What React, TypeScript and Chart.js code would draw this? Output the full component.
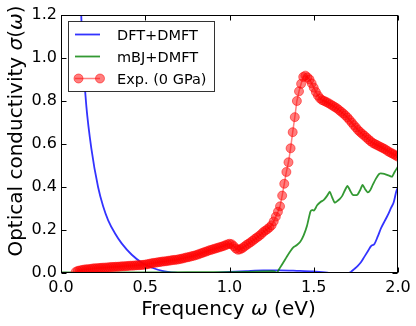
import { useEffect, useRef } from "react";
import { Chart, registerables } from "chart.js";

Chart.register(...registerables);

const FONT = "'DejaVu Sans', sans-serif";

const X_TICKS = [0, 0.5, 1.0, 1.5, 2.0];
const Y_TICKS = [0, 0.2, 0.4, 0.6, 0.8, 1.0, 1.2];

const LABELS = ["DFT+DMFT", "mBJ+DMFT", "Exp. (0 GPa)"];

// Axis titles: [text, italic]
const X_TITLE: [string, boolean][] = [["Frequency ", false], ["ω", true], [" (eV)", false]];
const Y_TITLE: [string, boolean][] = [["Optical conductivity ", false], ["σ", true], ["(", false], ["ω", true], [")", false]];

// DFT+DMFT (blue)
const DFT_X = [0.1, 0.12, 0.13, 0.15, 0.18, 0.22, 0.25, 0.28, 0.32, 0.36, 0.42, 0.48, 0.55, 0.6, 0.7, 0.77, 0.85, 1.0, 1.1, 1.2, 1.3, 1.4, 1.5, 1.58, 1.62, 1.66, 1.7, 1.72, 1.74, 1.76, 1.78, 1.8, 1.82, 1.84, 1.86, 1.88, 1.9, 1.92, 1.94, 1.96, 1.975, 1.99, 2.0];
const DFT_Y = [1.6, 1.2, 1.0, 0.78, 0.58, 0.4, 0.31, 0.245, 0.185, 0.138, 0.085, 0.048, 0.022, 0.01, 0.0, -0.004, -0.002, 0.005, 0.009, 0.012, 0.012, 0.01, 0.007, 0.002, -0.004, -0.006, -0.004, 0.005, 0.018, 0.032, 0.05, 0.075, 0.1, 0.125, 0.135, 0.17, 0.21, 0.24, 0.27, 0.305, 0.33, 0.38, 0.4];

// mBJ+DMFT (green)
const MBJ_X = [0, 0.3, 0.6, 0.9, 1.1, 1.2, 1.265, 1.28, 1.3, 1.32, 1.34, 1.36, 1.38, 1.4, 1.42, 1.44, 1.46, 1.48, 1.49, 1.5, 1.51, 1.52, 1.54, 1.56, 1.58, 1.595, 1.61, 1.625, 1.64, 1.655, 1.67, 1.685, 1.7, 1.715, 1.73, 1.745, 1.76, 1.775, 1.79, 1.805, 1.82, 1.835, 1.85, 1.87, 1.89, 1.91, 1.93, 1.95, 1.965, 1.98, 2.0];
const MBJ_Y = [0.003, 0.003, 0.003, 0.004, 0.005, 0.007, 0.008, 0.0, 0.025, 0.05, 0.076, 0.1, 0.12, 0.13, 0.145, 0.175, 0.22, 0.285, 0.293, 0.29, 0.3, 0.315, 0.33, 0.34, 0.36, 0.378, 0.35, 0.327, 0.335, 0.345, 0.36, 0.385, 0.405, 0.385, 0.365, 0.362, 0.365, 0.385, 0.41, 0.39, 0.375, 0.385, 0.41, 0.44, 0.462, 0.462, 0.458, 0.452, 0.448, 0.47, 0.495];

// Experiment (red), sampled on a uniform frequency grid
const EXP_START = 0.0875;
const EXP_STEP = 0.0125;
const EXP_Y = [
  0.005, 0.010, 0.012, 0.014, 0.016, 0.017, 0.018, 0.019,
  0.021, 0.022, 0.022, 0.023, 0.024, 0.025, 0.025, 0.026,
  0.027, 0.028, 0.028, 0.029, 0.029, 0.030, 0.031, 0.031,
  0.032, 0.033, 0.034, 0.034, 0.035, 0.036, 0.036, 0.037,
  0.038, 0.039, 0.041, 0.043, 0.045, 0.047, 0.048, 0.050,
  0.051, 0.053, 0.054, 0.055, 0.057, 0.058, 0.060, 0.061,
  0.062, 0.064, 0.066, 0.068, 0.071, 0.073, 0.075, 0.078,
  0.080, 0.083, 0.086, 0.090, 0.093, 0.097, 0.100, 0.104,
  0.107, 0.110, 0.113, 0.116, 0.119, 0.122, 0.125, 0.129,
  0.133, 0.136, 0.134, 0.125, 0.114, 0.108, 0.110, 0.115,
  0.122, 0.130, 0.136, 0.143, 0.150, 0.158, 0.165, 0.172,
  0.180, 0.190, 0.197, 0.204, 0.212, 0.222, 0.240, 0.262,
  0.285, 0.310, 0.360, 0.415, 0.470, 0.515, 0.580, 0.655,
  0.725, 0.800, 0.845, 0.880, 0.912, 0.918, 0.910, 0.900,
  0.882, 0.862, 0.842, 0.825, 0.812, 0.804, 0.800, 0.795,
  0.790, 0.784, 0.778, 0.772, 0.766, 0.758, 0.750, 0.742,
  0.733, 0.723, 0.712, 0.700, 0.688, 0.677, 0.665, 0.656,
  0.647, 0.639, 0.630, 0.621, 0.613, 0.605, 0.600, 0.595,
  0.590, 0.585, 0.580, 0.575, 0.568, 0.562, 0.557, 0.552,
  0.546, 0.541,
];

const BLUE = "rgba(0,0,255,0.8)";
const GREEN = "rgba(0,128,0,0.8)";
const RED = "rgba(255,0,0,0.5)";

const pts = (xs: number[], ys: number[]) => xs.map((x, i) => ({ x, y: ys[i] }));
const expPts = () => EXP_Y.map((y, i) => ({ x: +(EXP_START + i * EXP_STEP).toFixed(4), y }));

function drawRich(ctx: CanvasRenderingContext2D, parts: [string, boolean][], size: number) {
  const fontOf = (it: boolean) => `${it ? "italic " : ""}${size}px ${FONT}`;
  let total = 0;
  const widths = parts.map(([t, it]) => {
    ctx.font = fontOf(it);
    const w = ctx.measureText(t).width;
    total += w;
    return w;
  });
  let x = -total / 2;
  ctx.textAlign = "left";
  ctx.textBaseline = "alphabetic";
  parts.forEach(([t, it], i) => {
    ctx.font = fontOf(it);
    ctx.fillText(t, x, 0);
    x += widths[i];
  });
}

const framePlugin = {
  id: "frame",
  afterDatasetsDraw(chart: any) {
    const { ctx, chartArea: a, scales } = chart;
    const xs = scales.x;
    const ys = scales.y;
    ctx.save();
    ctx.strokeStyle = "#000";
    ctx.lineWidth = 1;
    const L = Math.round(a.left) + 0.5;
    const R = Math.round(a.right) - 0.5;
    const T = Math.round(a.top) + 0.5;
    const B = Math.round(a.bottom) - 0.5;
    ctx.strokeRect(L, T, R - L, B - T);
    const tl = 5;
    ctx.beginPath();
    X_TICKS.forEach((v) => {
      const p = Math.round(xs.getPixelForValue(v)) + 0.5;
      ctx.moveTo(p, B);
      ctx.lineTo(p, B - tl);
      ctx.moveTo(p, T);
      ctx.lineTo(p, T + tl);
    });
    Y_TICKS.forEach((v) => {
      const p = Math.round(ys.getPixelForValue(v)) + 0.5;
      ctx.moveTo(L, p);
      ctx.lineTo(L + tl, p);
      ctx.moveTo(R, p);
      ctx.lineTo(R - tl, p);
    });
    ctx.stroke();

    // axis titles
    ctx.fillStyle = "#000";
    ctx.save();
    ctx.translate((a.left + a.right) / 2 - 1, 315);
    drawRich(ctx, X_TITLE, 20);
    ctx.restore();
    ctx.save();
    ctx.translate(22, 131);
    ctx.rotate(-Math.PI / 2);
    drawRich(ctx, Y_TITLE, 20);
    ctx.restore();
    ctx.restore();
  },
};

const legendPlugin = {
  id: "boxLegend",
  afterDraw(chart: any) {
    const { ctx } = chart;
    const bx = 68.5, by = 21.5, bw = 146, bh = 70;
    ctx.save();
    ctx.fillStyle = "#fff";
    ctx.fillRect(bx, by, bw, bh);
    ctx.strokeStyle = "rgba(0,0,0,0.8)";
    ctx.lineWidth = 1;
    ctx.strokeRect(bx, by, bw, bh);
    const rows = [34.5, 56.5, 78.5];
    const colors = [BLUE, GREEN, RED];
    ctx.font = `14.5px ${FONT}`;
    ctx.textBaseline = "alphabetic";
    ctx.textAlign = "left";
    chart.data.datasets.forEach((ds: any, i: number) => {
      const y = rows[i];
      ctx.strokeStyle = colors[i];
      ctx.lineWidth = i === 2 ? 1.5 : 1.8;
      ctx.beginPath();
      ctx.moveTo(75, y);
      ctx.lineTo(100, y);
      ctx.stroke();
      if (i === 2) {
        [78.5, 100].forEach((cx) => {
          ctx.beginPath();
          ctx.arc(cx, y, 4.5, 0, Math.PI * 2);
          ctx.fillStyle = RED;
          ctx.fill();
          ctx.strokeStyle = RED;
          ctx.lineWidth = 1;
          ctx.stroke();
        });
      }
      ctx.fillStyle = "#000";
      ctx.fillText(ds.label, 117, y + 5);
    });
    ctx.restore();
  },
};

export default function App() {
  const ref = useRef<HTMLCanvasElement | null>(null);

  useEffect(() => {
    if (!ref.current) return;
    const chart = new Chart(ref.current, {
      type: "line",
      data: {
        datasets: [
          {
            label: LABELS[0],
            data: pts(DFT_X, DFT_Y),
            borderColor: BLUE,
            borderWidth: 1.8,
            pointRadius: 0,
            cubicInterpolationMode: "monotone",
            fill: false,
            order: 2,
          },
          {
            label: LABELS[1],
            data: pts(MBJ_X, MBJ_Y),
            borderColor: GREEN,
            borderWidth: 1.8,
            pointRadius: 0,
            tension: 0.2,
            fill: false,
            order: 1,
          },
          {
            label: LABELS[2],
            data: expPts(),
            borderColor: RED,
            borderWidth: 1.5,
            pointRadius: 4.5,
            pointBorderWidth: 1,
            pointBackgroundColor: RED,
            pointBorderColor: RED,
            fill: false,
            order: 0,
          },
        ],
      },
      options: {
        responsive: false,
        animation: false,
        devicePixelRatio: 1,
        layout: { padding: { left: 0, top: 15, right: 18, bottom: 0 } },
        plugins: { legend: { display: false }, tooltip: { enabled: false } },
        scales: {
          x: {
            type: "linear",
            min: 0,
            max: 2,
            grid: { display: false, drawTicks: false },
            border: { display: false },
            afterBuildTicks: (s: any) => {
              s.ticks = X_TICKS.map((v) => ({ value: v }));
            },
            afterFit: (s: any) => {
              s.height = 53;
            },
            ticks: {
              color: "#000",
              font: { family: FONT, size: 16 },
              padding: 5,
              maxRotation: 0,
              autoSkip: false,
              callback: (v: any) => Number(v).toFixed(1),
            },
            title: { display: false },
          },
          y: {
            type: "linear",
            min: 0,
            max: 1.2,
            grid: { display: false, drawTicks: false },
            border: { display: false },
            afterBuildTicks: (s: any) => {
              s.ticks = Y_TICKS.map((v) => ({ value: v }));
            },
            afterFit: (s: any) => {
              s.width = 61;
            },
            ticks: {
              color: "#000",
              font: { family: FONT, size: 16 },
              padding: 4,
              autoSkip: false,
              callback: (v: any) => Number(v).toFixed(1),
            },
            title: { display: false },
          },
        },
      },
      plugins: [framePlugin, legendPlugin],
    });
    return () => chart.destroy();
  }, []);

  return (
    <div style={{ position: "fixed", left: 0, top: 0, width: 416, height: 326, background: "#fff" }}>
      <canvas ref={ref} width={416} height={326} style={{ width: 416, height: 326, display: "block" }} />
    </div>
  );
}
